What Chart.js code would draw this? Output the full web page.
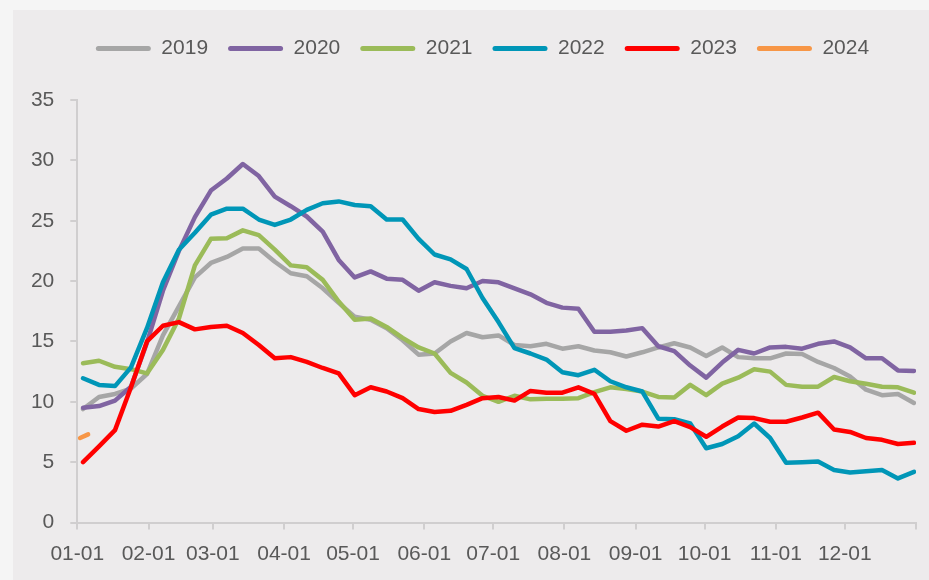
<!DOCTYPE html>
<html>
<head>
<meta charset="utf-8">
<script src="https://cdn.jsdelivr.net/npm/chart.js@4/dist/chart.umd.min.js"></script>
<style>
  html, body { margin: 0; padding: 0; background: #f5f5f5; }
</style>
</head>
<body>
<canvas id="chart" width="929" height="580"></canvas>
<script>
// weekly points, x = day of year
var weekDays = [];
for (var i = 0; i < 53; i++) weekDays.push(2.5 + i * 6.954);
var days2024 = [1.2, 4.7];

var monthDays = [0, 31, 59, 90, 120, 151, 181, 212, 243, 273, 304, 334, 365];
var monthLabels = ["01-01", "02-01", "03-01", "04-01", "05-01", "06-01",
    "07-01", "08-01", "09-01", "10-01", "11-01", "12-01", ""];

var y2019 = [9.4, 10.4, 10.65, 11.1, 12.3, 15.5, 17.9, 20.3, 21.5, 22.0, 22.7, 22.7, 21.6,
    20.65, 20.4, 19.4, 18.2, 17.05, 16.8, 16.1, 15.1, 13.9, 14.0, 15.0, 15.7, 15.35, 15.5,
    14.7, 14.6, 14.8, 14.4, 14.6, 14.25, 14.1, 13.75, 14.1, 14.5, 14.85, 14.5, 13.8,
    14.5, 13.7, 13.6, 13.6, 14.0, 13.95, 13.3, 12.8, 12.1, 11.0, 10.55, 10.65, 9.9];
var y2020 = [9.5, 9.65, 10.1, 11.25, 14.9, 19.2, 22.5, 25.3, 27.5, 28.5, 29.7, 28.7, 27.0,
    26.2, 25.35, 24.1, 21.75, 20.3, 20.8, 20.2, 20.1, 19.2, 19.9, 19.6, 19.4, 20.0, 19.9,
    19.4, 18.9, 18.2, 17.8, 17.7, 15.8, 15.8, 15.9, 16.1, 14.6, 14.2, 13.0, 12.0,
    13.25, 14.3, 14.0, 14.5, 14.55, 14.4, 14.8, 15.0, 14.5, 13.6, 13.6, 12.6, 12.55];
var y2021 = [13.2, 13.4, 12.9, 12.7, 12.35, 14.3, 16.9, 21.3, 23.5, 23.55, 24.2, 23.8, 22.6,
    21.3, 21.15, 20.1, 18.3, 16.8, 16.9, 16.2, 15.3, 14.5, 14.0, 12.4, 11.6, 10.5, 10.0,
    10.5, 10.2, 10.25, 10.25, 10.3, 10.8, 11.2, 11.05, 10.85, 10.4, 10.35, 11.4, 10.55,
    11.5, 12.0, 12.7, 12.5, 11.4, 11.25, 11.25, 12.05, 11.7, 11.5, 11.25, 11.2, 10.75];
var y2022 = [11.95, 11.4, 11.3, 12.85, 16.1, 19.9, 22.6, 24.0, 25.5, 26.0, 26.0, 25.1, 24.65,
    25.1, 25.9, 26.45, 26.6, 26.3, 26.2, 25.1, 25.1, 23.5, 22.2, 21.8, 21.0, 18.6, 16.6,
    14.45, 14.0, 13.5, 12.45, 12.2, 12.65, 11.7, 11.2, 10.85, 8.6, 8.55, 8.2, 6.15,
    6.5, 7.15, 8.2, 7.0, 4.95, 5.0, 5.05, 4.35, 4.15, 4.25, 4.35, 3.65, 4.2];
var y2023 = [5.0, 6.3, 7.65, 11.2, 15.0, 16.3, 16.6, 16.0, 16.2, 16.3, 15.7, 14.7, 13.6,
    13.7, 13.3, 12.8, 12.35, 10.55, 11.2, 10.85, 10.3, 9.4, 9.15, 9.25, 9.75, 10.3, 10.4,
    10.1, 10.9, 10.75, 10.75, 11.2, 10.65, 8.4, 7.6, 8.1, 7.95, 8.4, 7.9, 7.1,
    7.95, 8.7, 8.65, 8.35, 8.35, 8.7, 9.1, 7.7, 7.5, 7.0, 6.85, 6.5, 6.6];
var y2024 = [7.0, 7.3];

function pts(xs, ys) {
    return ys.map(function (v, i) { return { x: xs[i], y: v }; });
}

function line(label, xs, ys, color, order) {
    return {
        label: label,
        data: pts(xs, ys),
        borderColor: color,
        backgroundColor: color,
        borderWidth: 4.5,
        borderCapStyle: 'round',
        borderJoinStyle: 'round',
        pointRadius: 0,
        tension: 0,
        fill: false,
        order: order
    };
}

var textColor = '#595959';
var axisColor = '#d0cecf';
var font = { family: 'Liberation Sans, Arial, sans-serif', size: 21 };

// background + legend position
var bgPlugin = {
    id: 'bg',
    beforeDraw: function (chart) {
        var ctx = chart.ctx;
        ctx.save();
        ctx.fillStyle = '#f5f5f5';
        ctx.fillRect(0, 0, chart.width, chart.height);
        ctx.fillStyle = '#edebec';
        ctx.fillRect(13, 10, chart.width - 13, chart.height - 10);
        ctx.restore();
    },
    afterLayout: function (chart) {
        var l = chart.legend;
        var dx = 482.5 - (l.left + l.right) / 2;
        var dy = 18 - l.top;
        l.left += dx; l.right += dx;
        l.top += dy; l.bottom += dy;
    }
};

new Chart(document.getElementById('chart'), {
    type: 'line',
    data: {
        datasets: [
            line('2019', weekDays, y2019, '#a6a6a6', 6),
            line('2020', weekDays, y2020, '#8064a2', 5),
            line('2021', weekDays, y2021, '#9bbb59', 4),
            line('2022', weekDays, y2022, '#0096b7', 3),
            line('2023', weekDays, y2023, '#ff0000', 2),
            line('2024', days2024, y2024, '#f79646', 1)
        ]
    },
    options: {
        responsive: false,
        animation: false,
        layout: { padding: { left: 0, right: 13, top: 49, bottom: 0 } },
        plugins: {
            legend: {
                position: 'top',
                labels: {
                    boxWidth: 55,
                    boxHeight: 5,
                    useBorderRadius: true,
                    borderRadius: 2.5,
                    padding: 20,
                    color: textColor,
                    font: font,
                    sort: function (a, b) { return a.datasetIndex - b.datasetIndex; },
                    generateLabels: function (chart) {
                        return Chart.defaults.plugins.legend.labels.generateLabels(chart).map(function (l) {
                            l.lineWidth = 0;
                            l.fillStyle = l.strokeStyle;
                            return l;
                        });
                    }
                }
            },
            tooltip: { enabled: false }
        },
        scales: {
            x: {
                type: 'linear',
                min: 0,
                max: 365,
                afterBuildTicks: function (scale) {
                    scale.ticks = monthDays.map(function (d) { return { value: d }; });
                },
                afterFit: function (scale) { scale.height = 57.5; },
                ticks: {
                    autoSkip: false,
                    maxRotation: 0,
                    padding: 12,
                    color: textColor,
                    font: font,
                    callback: function (value, index) { return monthLabels[index]; }
                },
                grid: { drawOnChartArea: false, drawTicks: true, tickLength: 7, color: axisColor, lineWidth: 2 },
                border: { color: axisColor, width: 2 }
            },
            y: {
                min: 0,
                max: 35,
                afterFit: function (scale) { scale.width = 77.3; },
                ticks: {
                    stepSize: 5,
                    padding: 16,
                    color: textColor,
                    font: font
                },
                grid: { drawOnChartArea: false, drawTicks: true, tickLength: 7, color: axisColor, lineWidth: 2 },
                border: { color: axisColor, width: 2 }
            }
        }
    },
    plugins: [bgPlugin]
});
</script>
</body>
</html>
